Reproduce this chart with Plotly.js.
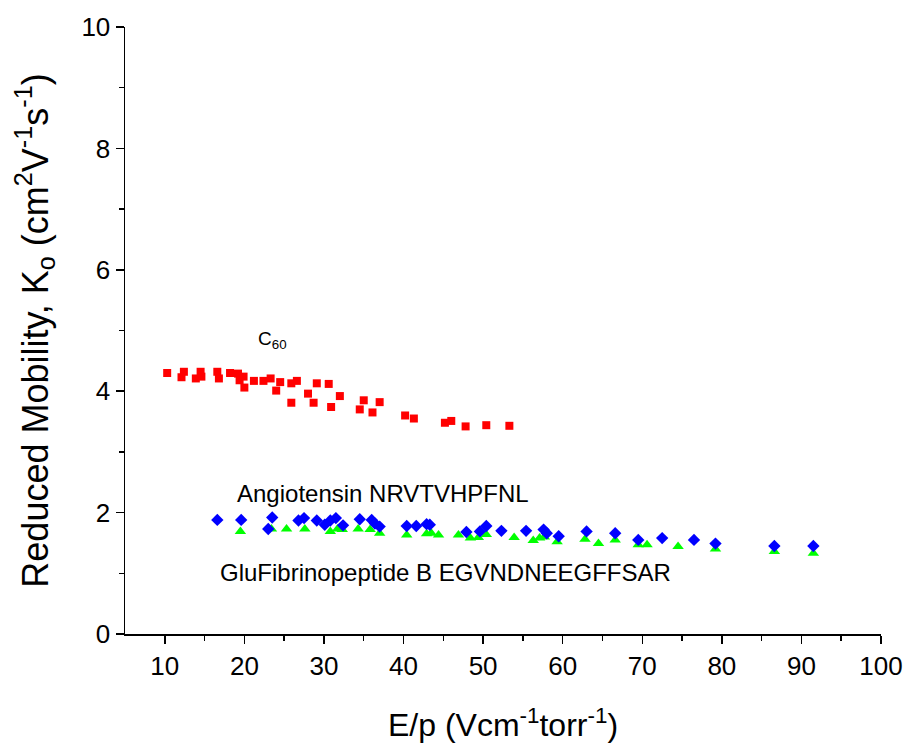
<!DOCTYPE html>
<html>
<head>
<meta charset="utf-8">
<script src="https://cdn.plot.ly/plotly-3.0.1.min.js"></script>
<style>html,body{margin:0;padding:0;background:#fff}#chart{width:909px;height:746px}</style>
</head>
<body>
<div id="chart"></div>
<script>
const c60X = [10.3,12.4,12.1,13.9,14.5,14.6,16.6,16.8,18.2,19.2,19.9,19.4,20.0,21.2,22.4,23.3,24.0,24.5,25.9,25.9,26.6,28.0,28.7,29.1,30.6,30.9,32.0,34.5,35.0,36.1,37.0,40.2,41.3,45.2,46.0,47.8,50.4,53.3];
const c60Y = [4.30,4.32,4.23,4.21,4.32,4.24,4.32,4.21,4.30,4.29,4.24,4.18,4.06,4.17,4.17,4.21,4.01,4.15,3.81,4.13,4.17,3.96,3.81,4.13,4.12,3.74,3.92,3.70,3.85,3.65,3.82,3.60,3.55,3.48,3.51,3.42,3.44,3.43];

const angX = [16.6,19.6,23.5,23.0,26.8,27.5,29.1,30.1,30.8,31.5,32.4,34.5,36.0,36.4,37.0,40.4,41.6,42.9,43.3,47.9,49.6,50.4,52.3,55.4,57.6,58.0,59.5,63.0,66.6,69.5,72.5,76.5,79.2,86.6,91.5];
const angY = [1.88,1.88,1.92,1.73,1.87,1.91,1.87,1.80,1.87,1.91,1.79,1.89,1.88,1.82,1.77,1.78,1.78,1.81,1.80,1.68,1.69,1.78,1.70,1.70,1.72,1.66,1.61,1.69,1.66,1.55,1.58,1.55,1.49,1.45,1.45];

const gluX = [19.5,23.4,25.3,27.6,30.8,31.7,32.3,34.3,35.8,37.0,40.4,42.9,43.5,44.4,46.9,48.4,49.4,50.4,53.9,56.3,57.1,57.7,59.3,62.8,64.5,66.6,69.5,70.6,74.5,79.2,86.6,91.5];
const gluY = [1.69,1.73,1.73,1.73,1.69,1.73,1.72,1.73,1.72,1.66,1.63,1.65,1.66,1.63,1.63,1.58,1.59,1.64,1.59,1.54,1.58,1.60,1.52,1.56,1.49,1.55,1.47,1.47,1.44,1.40,1.36,1.33];

const xTicks = [10,20,30,40,50,60,70,80,90,100];
const yTicks = [0,2,4,6,8,10];
const labels = ["C<sub>60</sub>", "Angiotensin NRVTVHPFNL", "GluFibrinopeptide B EGVNDNEEGFFSAR"];

const traces = [
  {x: c60X, y: c60Y, mode: 'markers', type: 'scatter', name: 'C60',
   marker: {symbol: 'square', size: 8, color: '#ff0000'}},
  {x: gluX, y: gluY, mode: 'markers', type: 'scatter', name: 'Glu',
   marker: {symbol: 'triangle-up', size: 10, color: '#00ff00'}},
  {x: angX, y: angY, mode: 'markers', type: 'scatter', name: 'Ang',
   marker: {symbol: 'diamond', size: 9.5, color: '#0000ff'}}
];

const fam = 'Liberation Sans, Arial, sans-serif';

const layout = {
  width: 909, height: 746,
  margin: {l: 125, r: 28, t: 27, b: 112},
  paper_bgcolor: '#fff', plot_bgcolor: '#fff',
  showlegend: false,
  font: {family: fam, color: '#000'},
  xaxis: {
    range: [5, 100], tickvals: xTicks,
    ticks: 'outside', ticklen: 8, tickwidth: 1.5, tickcolor: '#000',
    minor: {tickvals: [15,25,35,45,55,65,75,85,95], ticks: 'outside', ticklen: 5, tickwidth: 1.5, tickcolor: '#000'},
    showline: true, linecolor: '#000', linewidth: 1.5, showgrid: false, zeroline: false,
    tickfont: {family: fam, size: 26, color: '#000'},
    title: {text: 'E/p (Vcm<sup>-1</sup>torr<sup>-1</sup>)', font: {family: fam, size: 32, color: '#000'}, standoff: 34}
  },
  yaxis: {
    range: [0, 10], tickvals: yTicks,
    ticks: 'outside', ticklen: 8, tickwidth: 1.5, tickcolor: '#000',
    minor: {tickvals: [1,3,5,7,9], ticks: 'outside', ticklen: 5, tickwidth: 1.5, tickcolor: '#000'},
    showline: true, linecolor: '#000', linewidth: 1.5, showgrid: false, zeroline: false,
    tickfont: {family: fam, size: 26, color: '#000'},
    title: {text: 'Reduced Mobility, K<sub>o</sub> (cm<sup>2</sup>V<sup>-1</sup>s<sup>-1</sup>)', font: {family: fam, size: 36, color: '#000'}, standoff: 22}
  },
  annotations: [
    {x: 21.4, y: 4.84, text: labels[0], showarrow: false, xanchor: 'left', yanchor: 'middle', font: {family: fam, size: 19, color: '#000'}},
    {x: 18.8, y: 2.31, text: labels[1], showarrow: false, xanchor: 'left', yanchor: 'middle', font: {family: fam, size: 24, color: '#000'}},
    {x: 16.7, y: 1.02, text: labels[2], showarrow: false, xanchor: 'left', yanchor: 'middle', font: {family: fam, size: 24, color: '#000'}}
  ]
};

Plotly.newPlot('chart', traces, layout, {displayModeBar: false, staticPlot: true});
</script>
</body>
</html>
